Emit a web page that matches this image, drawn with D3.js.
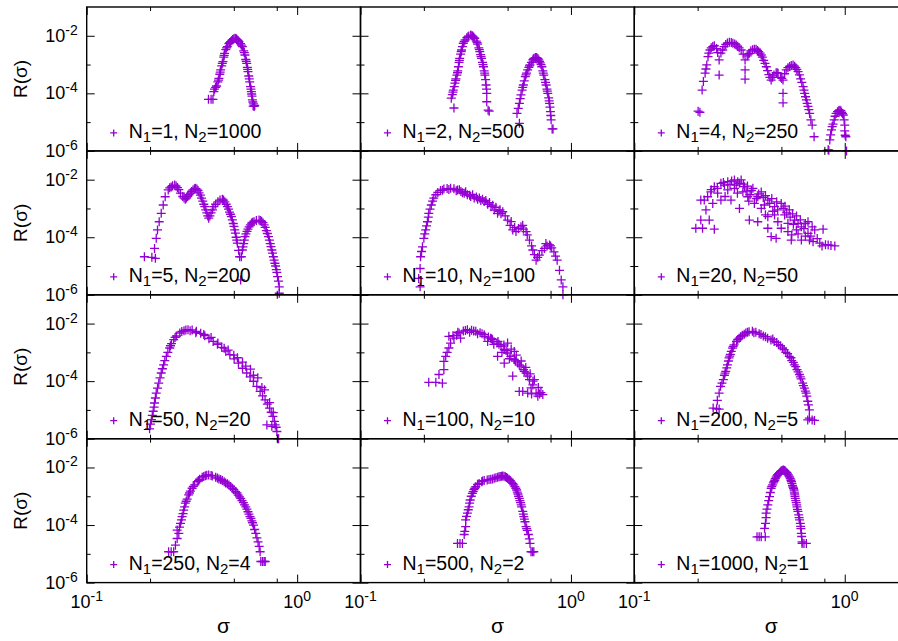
<!DOCTYPE html>
<html>
<head>
<meta charset="utf-8">
<script src="https://cdn.jsdelivr.net/npm/d3@7"></script>
<style>
body { margin: 0; background: #fff; }
text { font-family: "Liberation Sans", Arial, sans-serif; fill: #000; }
.frame { fill: none; stroke: #000; stroke-width: 1.4; }
.pt { fill: none; stroke: #9400d3; stroke-width: 1.3; }
</style>
</head>
<body>
<svg id="chart" width="898" height="641"></svg>
<script>
// N1 / N2 of each panel, in reading order
let n1_values = [1, 2, 4, 5, 10, 20, 50, 100, 200, 250, 500, 1000];
let n2_values = [1000, 500, 250, 200, 100, 50, 20, 10, 5, 4, 2, 1];

// tick values
let x_major = [0.1, 1];
let x_minor = [0.2, 0.5, 0.8];
let y_major = [1e-6, 1e-4, 1e-2];
let y_minor = [1e-5, 1e-3];

// [sigma, R(sigma)]
let pts_1_1000 = [[0.379,6.2e-5],[0.390,6.2e-5],[0.398,6.2e-5],[0.402,1.14e-4],[0.405,1.4e-4],[0.414,1.8e-4],[0.420,2.5e-4],[0.425,3.3e-4],[0.429,4.6e-4],[0.433,6.5e-4],[0.438,9e-4],[0.444,1.26e-3],[0.448,1.8e-3],[0.452,2.46e-3],[0.458,3.3e-3],[0.466,4.2e-3],[0.474,5.3e-3],[0.483,6.2e-3],[0.494,7.4e-3],[0.500,7.9e-3],[0.507,8.2e-3],[0.515,7.7e-3],[0.520,7.2e-3],[0.529,6.2e-3],[0.538,5.3e-3],[0.549,4.2e-3],[0.557,3.0e-3],[0.565,2.15e-3],[0.570,1.5e-3],[0.576,1.1e-3],[0.580,8e-4],[0.584,5.65e-4],[0.589,4e-4],[0.595,2.5e-4],[0.600,1.7e-4],[0.606,1.14e-4],[0.610,8e-5],[0.613,5.9e-5],[0.618,3.6e-5],[0.620,4.3e-5],[0.625,3.5e-5],[0.629,3.8e-5],
  [0.410,1.6e-4],[0.423,2.9e-4],[0.431,5.5e-4],[0.441,1.1e-3],[0.450,2.1e-3],[0.462,3.8e-3],[0.478,5.8e-3],[0.489,6.9e-3],[0.511,8.0e-3],[0.524,6.8e-3],[0.543,4.7e-3],[0.561,2.6e-3],[0.573,1.3e-3],[0.582,6.8e-4],[0.592,3.2e-4],[0.603,1.4e-4],[0.608,9.5e-5],[0.616,5e-5]];

let pts_2_500 = [[0.278,3.1e-5],[0.270,6.8e-5],[0.273,9e-5],[0.276,1.3e-4],[0.279,1.7e-4],[0.281,2.25e-4],[0.284,3.2e-4],[0.287,4.3e-4],[0.290,6e-4],[0.292,8.4e-4],[0.294,1.2e-3],[0.296,1.65e-3],[0.299,2.3e-3],[0.302,3.2e-3],[0.305,4.2e-3],[0.308,5.5e-3],[0.314,7.2e-3],[0.320,8.6e-3],[0.327,9.8e-3],[0.334,1.06e-2],[0.341,9.8e-3],[0.349,8.2e-3],[0.355,6.5e-3],[0.360,5.1e-3],[0.365,3.8e-3],[0.369,2.8e-3],[0.372,2.2e-3],[0.376,1.65e-3],[0.380,1.2e-3],[0.384,8.4e-4],[0.387,6e-4],[0.390,4.3e-4],[0.393,3e-4],[0.395,1.95e-4],[0.397,1.4e-4],[0.398,1.0e-4],[0.398,5.1e-5],[0.404,2.6e-5],[0.409,2.4e-5],
  [0.275,1.1e-4],[0.283,2.8e-4],[0.289,5.2e-4],[0.295,1.4e-3],[0.301,2.8e-3],[0.311,6.4e-3],[0.324,9.2e-3],[0.338,1.0e-2],[0.345,9e-3],[0.358,5.8e-3],[0.367,3.3e-3],[0.374,1.9e-3],[0.382,1.0e-3],[0.389,5e-4],
  [0.569,9.1e-6],[0.554,2.0e-5],[0.562,3e-5],[0.569,4.5e-5],[0.574,6.5e-5],[0.579,8.8e-5],[0.586,1.3e-4],[0.594,1.95e-4],[0.600,2.7e-4],[0.607,3.8e-4],[0.615,5e-4],[0.623,6.5e-4],[0.631,8e-4],[0.639,9.7e-4],[0.649,1.2e-3],[0.659,1.45e-3],[0.668,1.65e-3],[0.678,1.75e-3],[0.690,1.7e-3],[0.703,1.45e-3],[0.715,1.15e-3],[0.727,8.4e-4],[0.735,6e-4],[0.743,4.3e-4],[0.752,3e-4],[0.762,1.95e-4],[0.769,1.4e-4],[0.776,1.0e-4],[0.784,7e-5],[0.791,4.5e-5],[0.795,3.3e-5],[0.799,2.3e-5],[0.802,1.7e-5],[0.805,1.2e-5],[0.814,5.8e-6],[0.822,5.8e-6],
  [0.590,1.6e-4],[0.611,4.4e-4],[0.635,9e-4],[0.663,1.55e-3],[0.684,1.75e-3],[0.697,1.6e-3],[0.709,1.3e-3],[0.721,1.0e-3],[0.739,5e-4],[0.757,2.4e-4],[0.772,1.2e-4],[0.788,5.5e-5]];

let pts_4_250 = [[0.201,2.4e-5],[0.205,2.2e-5],[0.210,1.3e-4],[0.213,2.6e-4],[0.217,5.0e-4],[0.221,9.7e-4],[0.224,1.88e-3],[0.229,3.2e-3],[0.236,4.2e-3],[0.240,4.5e-3],[0.246,3.6e-3],[0.253,1.45e-3],[0.253,4.3e-4],[0.258,2.5e-3],[0.263,3.2e-3],[0.272,5.0e-3],[0.283,5.9e-3],[0.294,5.5e-3],[0.305,4.8e-3],[0.315,3.8e-3],[0.322,3.2e-3],[0.336,1.45e-3],[0.336,6.5e-4],[0.336,3.1e-4],[0.344,2.0e-3],[0.352,2.45e-3],[0.365,3.3e-3],[0.379,3.4e-3],[0.390,2.8e-3],[0.401,2.15e-3],[0.412,1.4e-3],[0.424,8.4e-4],[0.436,4.5e-4],[0.447,2.9e-4],[0.461,4.3e-4],[0.472,5.2e-4],[0.482,5.0e-4],[0.495,3.6e-4],[0.509,2.9e-4],[0.509,1.0e-4],[0.509,4.7e-5],[0.527,6.5e-4],[0.547,8.6e-4],[0.568,9.7e-4],[0.585,7.8e-4],[0.600,5.7e-4],[0.617,3.2e-4],[0.634,1.7e-4],[0.645,1.0e-4],[0.657,5.9e-5],[0.669,3.5e-5],[0.681,2.0e-5],[0.700,7.9e-6],[0.715,3.1e-6],
  [0.219,7e-4],[0.226,2.5e-3],[0.232,3.8e-3],[0.249,2.6e-3],[0.267,4.2e-3],[0.277,5.6e-3],[0.289,5.8e-3],[0.300,5.2e-3],[0.310,4.3e-3],[0.329,2.3e-3],[0.348,2.3e-3],[0.358,3.0e-3],[0.372,3.4e-3],[0.385,3.1e-3],[0.396,2.5e-3],[0.406,1.8e-3],[0.418,1.1e-3],[0.430,6.2e-4],[0.441,3.6e-4],[0.454,3.6e-4],[0.477,5.2e-4],[0.502,3.3e-4],[0.518,4.8e-4],[0.537,7.8e-4],[0.557,9.3e-4],[0.578,8.8e-4],[0.592,6.8e-4],[0.609,4.4e-4],[0.625,2.4e-4],[0.640,1.3e-4],[0.651,7.6e-5],[0.663,4.5e-5],[0.675,2.7e-5],[0.690,1.2e-5],
  [0.834,1.1e-6],[0.840,1.05e-6],[0.849,2.4e-6],[0.865,5.4e-6],[0.880,8.5e-6],[0.891,1.2e-5],[0.910,2.0e-5],[0.924,2.3e-5],[0.948,2.6e-5],[0.966,2.2e-5],[0.984,1.77e-5],[1.00,7.9e-6],[1.005,3.5e-6],[1.012,3.1e-6],[1.02,1.0e-6],
  [0.857,3.6e-6],[0.872,7e-6],[0.900,1.6e-5],[0.936,2.5e-5],[0.958,2.5e-5],[0.975,2.0e-5],[0.993,1.2e-5],[1.00,5e-6]];

let pts_5_200 = [[0.188,2.1e-5],[0.204,2.0e-5],[0.212,1.85e-5],[0.210,4.1e-5],[0.214,9.2e-5],[0.217,1.8e-4],[0.221,3.45e-4],[0.226,6.8e-4],[0.231,1.32e-3],[0.236,2.55e-3],[0.244,4.4e-3],[0.252,5.6e-3],[0.262,6.5e-3],[0.270,5.3e-3],[0.279,3.4e-3],[0.286,2.6e-3],[0.294,2.1e-3],[0.302,2.6e-3],[0.311,3.4e-3],[0.320,4.4e-3],[0.329,5.0e-3],[0.338,4.2e-3],[0.347,2.9e-3],[0.356,1.8e-3],[0.364,1.15e-3],[0.372,7e-4],[0.380,4.6e-4],[0.390,7e-4],[0.402,1.15e-3],[0.420,1.7e-3],[0.441,2.1e-3],[0.453,1.7e-3],[0.466,1.15e-3],[0.477,7.5e-4],[0.487,5.2e-4],[0.497,3e-4],[0.505,1.8e-4],[0.513,1.0e-4],[0.520,6.2e-5],[0.527,3.5e-5],[0.533,2.1e-5],[0.539,3.3e-6],[0.543,2.1e-5],[0.549,3.6e-5],[0.557,6e-5],[0.565,1.05e-4],[0.578,1.6e-4],[0.591,2.3e-4],[0.607,3.1e-4],[0.624,3.45e-4],[0.659,3.95e-4],[0.678,3.6e-4],[0.697,2.7e-4],[0.714,1.7e-4],[0.731,1.05e-4],[0.745,6e-5],[0.758,3.6e-5],[0.771,2.1e-5],[0.784,1.25e-5],[0.796,7.5e-6],[0.807,4.3e-6],[0.822,1.9e-6],[0.822,1.13e-6],
  [0.248,5.2e-3],[0.256,6.2e-3],[0.266,6.0e-3],[0.274,4.5e-3],[0.290,2.3e-3],[0.298,2.3e-3],[0.306,3.0e-3],[0.315,3.9e-3],[0.325,4.8e-3],[0.334,4.7e-3],[0.342,3.5e-3],[0.351,2.3e-3],[0.360,1.4e-3],[0.368,9e-4],[0.376,5.5e-4],[0.385,5.5e-4],[0.396,9e-4],[0.410,1.4e-3],[0.430,1.95e-3],[0.447,1.95e-3],[0.460,1.4e-3],[0.472,9.5e-4],[0.482,6.3e-4],[0.492,4e-4],[0.501,2.4e-4],[0.509,1.4e-4],[0.516,8e-5],[0.553,4.6e-5],[0.561,8e-5],[0.571,1.3e-4],[0.584,1.9e-4],[0.599,2.7e-4],[0.615,3.3e-4],[0.640,3.8e-4],[0.668,3.8e-4],[0.688,3.2e-4],[0.705,2.2e-4],[0.722,1.35e-4],[0.738,8e-5],[0.751,4.7e-5],[0.764,2.8e-5],[0.777,1.6e-5],[0.790,1.0e-5],[0.801,6e-6],[0.815,3e-6]];

let pts_10_100 = [[0.192,1.9e-6],[0.189,3.7e-6],[0.192,8.2e-6],[0.193,2.1e-5],[0.195,3.2e-5],[0.197,4.65e-5],[0.200,9.2e-5],[0.202,1.3e-4],[0.204,1.8e-4],[0.206,2.5e-4],[0.208,3.45e-4],[0.210,5e-4],[0.211,6.8e-4],[0.214,9.5e-4],[0.217,1.32e-3],[0.220,1.8e-3],[0.223,2.3e-3],[0.228,3.0e-3],[0.233,3.6e-3],[0.240,4.2e-3],[0.249,4.7e-3],[0.258,4.9e-3],[0.268,5.0e-3],[0.278,4.8e-3],[0.289,4.4e-3],[0.300,3.9e-3],[0.311,3.4e-3],[0.322,3.0e-3],[0.334,2.6e-3],[0.347,2.3e-3],[0.360,2.1e-3],[0.373,1.9e-3],[0.387,1.73e-3],[0.402,1.4e-3],[0.417,1.15e-3],[0.432,8.8e-4],[0.448,6.8e-4],[0.474,7.7e-4],[0.487,5.5e-4],[0.500,3.95e-4],[0.514,2.6e-4],[0.529,1.8e-4],[0.548,1.57e-4],[0.563,2.0e-4],[0.579,2.3e-4],[0.595,1.9e-4],[0.612,1.57e-4],[0.635,8.0e-5],[0.659,3.6e-5],[0.683,1.6e-5],[0.695,2.0e-5],[0.708,2.4e-5],[0.728,3.4e-5],[0.748,4.1e-5],[0.770,5.0e-5],[0.791,5.4e-5],[0.810,4.3e-5],[0.830,3.1e-5],[0.845,2.2e-5],[0.860,1.6e-5],[0.882,7.1e-6],[0.899,3.3e-6],[0.916,1.9e-6],[0.916,1e-6],
  [0.285,4.1e-3],[0.305,3.5e-3],[0.330,2.9e-3],[0.355,2.5e-3],[0.380,2.1e-3],[0.410,1.6e-3],[0.440,1.1e-3],[0.460,9e-4],[0.520,3.5e-4],[0.540,2.2e-4],[0.590,2.6e-4],[0.620,1.2e-4],[0.650,5e-5],[0.670,2.5e-5],[0.760,6e-5],[0.800,5e-5],[0.245,4.3e-3],[0.263,4.6e-3],[0.295,4.5e-3],[0.316,3.8e-3],[0.341,3.0e-3],[0.367,2.3e-3],[0.394,1.9e-3],[0.425,1.3e-3],[0.455,8e-4],[0.465,6.6e-4]];

let pts_20_50 = [[0.196,2.05e-4],[0.211,2.05e-4],[0.240,1.9e-4],[0.207,3.95e-4],[0.227,3.95e-4],[0.219,8.9e-4],[0.215,1.95e-3],[0.223,2.55e-3],[0.231,3.75e-3],[0.240,5.7e-3],[0.258,7.5e-3],[0.278,8.5e-3],[0.299,9.8e-3],[0.316,7.5e-3],[0.334,5.7e-3],[0.366,5.0e-3],[0.401,3.75e-3],[0.309,3.4e-3],[0.258,1.95e-3],[0.288,1.95e-3],[0.316,1.0e-3],[0.346,2.55e-3],[0.372,1.5e-3],[0.401,1.0e-3],[0.431,1.95e-3],[0.464,1.15e-3],[0.499,1.5e-3],[0.352,3.95e-4],[0.386,3.45e-4],[0.431,5.2e-4],[0.431,2.05e-4],[0.447,1.05e-4],[0.472,9.2e-5],[0.481,3.45e-4],[0.518,5.95e-4],[0.537,3.05e-4],[0.578,3.95e-4],[0.622,2.3e-4],[0.669,3.45e-4],[0.557,8.0e-5],[0.622,8.0e-5],[0.669,1.37e-4],[0.720,1.8e-4],[0.789,1.9e-4],[0.761,6.2e-5],[0.834,5.4e-5],[0.897,5.0e-5],[0.707,7.0e-5],[0.499,2.05e-4],[0.537,1.57e-4],[0.589,1.8e-4],[0.278,4.4e-3],[0.299,5.0e-3],[0.328,3.75e-3],[0.249,3.4e-3],[0.236,1.5e-3],[0.386,2.55e-3],[0.415,1.32e-3],[0.464,5.95e-4],[0.322,9.8e-3],[0.268,6.5e-3],[0.207,1.95e-3],
  [0.232,4.5e-3],[0.248,5.0e-3],[0.265,8.0e-3],[0.290,9.0e-3],[0.305,6.5e-3],[0.340,4.0e-3],[0.355,3.0e-3],[0.380,2.2e-3],[0.410,2.4e-3],[0.440,1.5e-3],[0.455,8e-4],[0.480,9e-4],[0.510,1.0e-3],[0.530,7e-4],[0.550,5e-4],[0.570,2.8e-4],[0.600,3e-4],[0.640,2.0e-4],[0.650,1.1e-4],[0.690,1.1e-4],[0.740,9e-5],[0.780,5e-5],[0.810,5.5e-5],[0.860,5.2e-5],[0.270,2.6e-3],[0.350,1.8e-3],[0.420,6e-4],[0.600,1.3e-4],
  [0.285,6.8e-3],[0.310,8.4e-3],[0.330,7.0e-3],[0.345,6.0e-3],[0.360,4.2e-3],[0.390,3.2e-3],[0.420,2.8e-3],[0.450,2.2e-3],[0.475,1.7e-3],[0.520,1.2e-3],[0.545,9e-4],[0.565,6.5e-4],[0.590,5.5e-4],[0.615,4e-4],[0.650,3e-4],[0.700,2.3e-4],[0.560,1.2e-4],[0.680,8e-5]];

let pts_50_20 = [[0.199,2.2e-6],[0.201,3.2e-6],[0.203,4.6e-6],[0.205,6.5e-6],[0.207,9.0e-6],[0.209,1.25e-5],[0.210,1.74e-5],[0.212,2.6e-5],[0.214,3.85e-5],[0.217,5.7e-5],[0.220,8.5e-5],[0.223,1.3e-4],[0.226,1.92e-4],[0.229,2.7e-4],[0.232,3.7e-4],[0.235,5.2e-4],[0.239,7.3e-4],[0.243,1.0e-3],[0.248,1.42e-3],[0.253,2.0e-3],[0.259,2.75e-3],[0.267,3.7e-3],[0.277,4.7e-3],[0.290,5.6e-3],[0.303,6.1e-3],[0.317,6.0e-3],[0.332,5.4e-3],[0.348,4.6e-3],[0.364,3.8e-3],[0.381,3.0e-3],[0.399,2.4e-3],[0.418,1.9e-3],[0.438,1.5e-3],[0.458,1.1e-3],[0.479,8.3e-4],[0.502,5.9e-4],[0.526,4.2e-4],[0.550,2.8e-4],[0.576,1.92e-4],[0.598,1.4e-4],[0.620,9.9e-5],[0.643,6.6e-5],[0.667,4.4e-5],[0.685,3.1e-5],[0.704,2.25e-5],[0.722,1.6e-5],[0.739,1.16e-5],[0.753,8.3e-6],[0.767,5.95e-6],[0.786,3.0e-6],[0.801,1.78e-6],[0.816,1.0e-6],[0.758,2.7e-6],[0.718,3.0e-6],[0.810,1.0e-6],
  [0.450,1.4e-3],[0.500,8e-4],[0.550,4.6e-4],[0.600,2.6e-4],[0.650,1.3e-4],[0.700,5e-5],
  [0.330,4.8e-3],[0.360,4.2e-3],[0.390,3.3e-3],[0.420,2.1e-3],[0.470,1.2e-3],[0.520,6.5e-4],[0.570,3.3e-4],[0.620,1.6e-4],[0.680,6e-5],[0.740,1.8e-5],[0.770,8e-6],[0.780,4e-6],[0.795,2.5e-6],[0.310,5.6e-3],[0.296,6.0e-3],[0.283,5.3e-3],[0.263,3.3e-3],[0.250,1.7e-3]];

let pts_100_10 = [[0.211,9.1e-5],[0.228,9.1e-5],[0.245,8.5e-5],[0.236,1.7e-4],[0.249,2.5e-4],[0.249,4.9e-4],[0.254,7.3e-4],[0.258,1.0e-3],[0.263,1.42e-3],[0.268,2.1e-3],[0.278,3.1e-3],[0.286,3.9e-3],[0.294,4.7e-3],[0.308,5.5e-3],[0.322,6.1e-3],[0.337,5.9e-3],[0.353,5.4e-3],[0.370,4.8e-3],[0.387,4.1e-3],[0.405,3.4e-3],[0.424,2.75e-3],[0.445,2.1e-3],[0.465,1.62e-3],[0.482,1.25e-3],[0.500,9.5e-4],[0.518,7.3e-4],[0.538,5.6e-4],[0.558,4.3e-4],[0.579,3.3e-4],[0.595,2.5e-4],[0.612,1.92e-4],[0.635,1.12e-4],[0.659,7.4e-5],[0.683,3.85e-5],[0.735,3.4e-5],[0.710,3.6e-5],[0.623,3.85e-5],[0.568,4.4e-5],[0.529,1.5e-4],[0.482,4.2e-4],[0.448,7.3e-4],[0.500,2.1e-3],[0.538,1.08e-3],[0.568,3.7e-4],[0.623,1.5e-4],[0.670,1.12e-4],[0.646,5.8e-5],[0.696,3.0e-5],[0.263,3.6e-3],[0.402,2.4e-3],[0.299,3.1e-3],[0.430,1.9e-3],[0.470,1.0e-3],[0.510,6e-4],[0.590,4.4e-5],[0.650,3.6e-5],
  [0.330,5.0e-3],[0.360,4.4e-3],[0.390,3.6e-3],[0.420,3.0e-3],[0.450,2.4e-3],[0.480,1.8e-3],[0.520,1.3e-3],[0.550,8e-4],[0.580,5e-4],[0.610,3e-4],[0.640,1.8e-4],[0.700,6e-5],[0.720,4e-5],[0.290,5.0e-3],[0.275,3.8e-3],[0.315,5.8e-3],[0.345,5.5e-3],[0.378,4.4e-3],[0.415,3.1e-3],[0.455,1.9e-3],[0.492,1.15e-3],[0.545,5e-4],[0.600,2.2e-4],[0.660,1.0e-4]];

let pts_200_5 = [[0.237,1.16e-5],[0.253,1.07e-5],[0.246,1.1e-5],[0.248,2.15e-5],[0.253,3.85e-5],[0.257,6.6e-5],[0.261,8.5e-5],[0.265,1.12e-4],[0.268,1.6e-4],[0.272,2.2e-4],[0.275,2.9e-4],[0.277,3.7e-4],[0.280,5e-4],[0.282,6.4e-4],[0.286,8.5e-4],[0.289,1.08e-3],[0.293,1.4e-3],[0.298,1.83e-3],[0.306,2.4e-3],[0.315,3.1e-3],[0.326,3.9e-3],[0.339,4.7e-3],[0.351,5.2e-3],[0.364,5.4e-3],[0.378,5.0e-3],[0.392,4.4e-3],[0.410,3.7e-3],[0.430,3.1e-3],[0.446,2.7e-3],[0.462,2.4e-3],[0.484,1.85e-3],[0.506,1.42e-3],[0.525,1.0e-3],[0.545,7.3e-4],[0.560,5.2e-4],[0.576,3.7e-4],[0.593,2.5e-4],[0.609,1.7e-4],[0.620,1.2e-4],[0.631,8.5e-5],[0.643,5.7e-5],[0.655,3.85e-5],[0.667,2.0e-5],[0.679,1.0e-5],[0.679,5.2e-6],[0.718,4.3e-6],[0.667,4.5e-6],[0.700,4.5e-6],
  [0.345,5.0e-3],[0.370,4.8e-3],[0.400,4.2e-3],[0.420,3.5e-3],[0.455,2.9e-3],[0.475,2.2e-3],[0.495,1.7e-3],[0.515,1.25e-3],[0.535,9e-4],[0.555,6.5e-4],[0.570,4.5e-4],[0.585,3.2e-4],[0.600,2.1e-4],[0.615,1.4e-4],[0.636,7e-5],[0.650,4.5e-5],[0.660,3e-5],[0.672,1.5e-5],[0.270,1.9e-4],[0.284,7.4e-4],[0.295,1.6e-3],[0.310,2.8e-3],[0.320,3.5e-3],[0.333,4.3e-3]];

let pts_250_4 = [[0.245,1.18e-5],[0.252,1.18e-5],[0.259,1.18e-5],[0.264,2.0e-5],[0.269,3.4e-5],[0.274,5.1e-5],[0.269,6.7e-5],[0.276,8.5e-5],[0.279,1.15e-4],[0.282,1.5e-4],[0.284,1.95e-4],[0.287,2.5e-4],[0.289,3.3e-4],[0.292,4.3e-4],[0.294,5.75e-4],[0.300,8e-4],[0.305,1.12e-3],[0.311,1.5e-3],[0.317,1.9e-3],[0.326,2.5e-3],[0.335,3.2e-3],[0.344,3.9e-3],[0.354,4.6e-3],[0.366,5.2e-3],[0.380,5.5e-3],[0.395,5.1e-3],[0.410,4.6e-3],[0.425,4.0e-3],[0.441,3.5e-3],[0.457,2.9e-3],[0.474,2.45e-3],[0.492,1.9e-3],[0.510,1.45e-3],[0.525,1.1e-3],[0.539,8.4e-4],[0.555,6e-4],[0.570,4.3e-4],[0.584,2.9e-4],[0.597,1.95e-4],[0.609,1.4e-4],[0.620,1.0e-4],[0.628,7e-5],[0.636,5.1e-5],[0.644,3.6e-5],[0.652,2.6e-5],[0.660,1.8e-5],[0.667,1.18e-5],[0.672,5.4e-6],[0.685,5.4e-6],[0.697,5.4e-6],[0.705,5.4e-6],
  [0.360,4.9e-3],[0.390,5.3e-3],[0.418,4.3e-3],[0.433,3.8e-3],[0.450,3.2e-3],[0.466,2.7e-3],[0.483,2.2e-3],[0.500,1.7e-3],[0.518,1.3e-3],[0.532,9.5e-4],[0.547,7e-4],[0.562,5e-4],[0.577,3.6e-4],[0.590,2.4e-4],[0.603,1.7e-4],[0.614,1.2e-4],[0.297,6.7e-4],[0.308,1.3e-3],[0.321,2.2e-3],[0.340,3.5e-3],[0.372,5.4e-3]];

let pts_500_2 = [[0.289,2.3e-5],[0.297,2.3e-5],[0.305,2.3e-5],[0.311,4.7e-5],[0.316,8.8e-5],[0.316,1.5e-4],[0.322,2.6e-4],[0.328,4.3e-4],[0.332,7.4e-4],[0.336,1.0e-3],[0.340,1.26e-3],[0.346,1.7e-3],[0.353,2.15e-3],[0.366,2.8e-3],[0.377,3.2e-3],[0.387,3.5e-3],[0.400,3.7e-3],[0.416,3.9e-3],[0.432,4.2e-3],[0.448,4.6e-3],[0.461,4.9e-3],[0.474,5.1e-3],[0.488,4.8e-3],[0.500,4.2e-3],[0.515,3.5e-3],[0.529,2.8e-3],[0.541,2.15e-3],[0.552,1.65e-3],[0.560,1.2e-3],[0.568,8.5e-4],[0.576,6e-4],[0.583,4.3e-4],[0.590,3e-4],[0.597,1.95e-4],[0.605,1.3e-4],[0.612,8.8e-5],[0.620,6.5e-5],[0.628,4.7e-5],[0.634,3.3e-5],[0.639,2.3e-5],[0.646,1.18e-5],[0.656,1.18e-5],[0.666,1.18e-5],
  [0.360,2.6e-3],[0.380,3.4e-3],[0.408,3.8e-3],[0.424,4.0e-3],[0.440,4.4e-3],[0.455,4.8e-3],[0.468,5.0e-3],[0.481,5.0e-3],[0.494,4.5e-3],[0.508,3.9e-3],[0.522,3.1e-3],[0.535,2.5e-3],[0.547,1.9e-3],[0.556,1.4e-3],[0.564,1.0e-3],[0.572,7e-4],[0.580,5e-4],[0.594,2.4e-4],[0.601,1.6e-4],[0.616,7.5e-5],[0.313,6e-5],[0.319,2e-4],[0.325,3.4e-4],[0.330,5.8e-4],[0.343,1.45e-3],[0.349,1.9e-3]];

let pts_1000_1 = [[0.383,3.9e-5],[0.392,3.9e-5],[0.401,3.9e-5],[0.419,3.9e-5],[0.416,7.7e-5],[0.420,1.15e-4],[0.423,1.8e-4],[0.423,2.6e-4],[0.427,3.6e-4],[0.431,5.0e-4],[0.435,7e-4],[0.439,9.7e-4],[0.443,1.35e-3],[0.447,1.9e-3],[0.454,2.5e-3],[0.461,3.2e-3],[0.468,4.1e-3],[0.476,5.1e-3],[0.485,6.1e-3],[0.495,7.1e-3],[0.503,7.8e-3],[0.512,8.2e-3],[0.521,7.5e-3],[0.531,6.6e-3],[0.539,5.5e-3],[0.547,4.6e-3],[0.555,3.6e-3],[0.561,2.8e-3],[0.567,2.1e-3],[0.574,1.65e-3],[0.578,1.2e-3],[0.582,8.5e-4],[0.588,6e-4],[0.593,4.3e-4],[0.599,3e-4],[0.604,2.25e-4],[0.610,1.5e-4],[0.615,1.15e-4],[0.619,7.5e-5],[0.622,5.1e-5],[0.627,2.6e-5],[0.627,2.3e-5],[0.640,2.3e-5],[0.657,2.3e-5],
  [0.450,2.2e-3],[0.458,2.9e-3],[0.465,3.6e-3],[0.472,4.6e-3],[0.480,5.6e-3],[0.490,6.6e-3],[0.499,7.5e-3],[0.508,8.0e-3],[0.517,7.9e-3],[0.526,7.0e-3],[0.535,6.0e-3],[0.543,5.0e-3],[0.551,4.1e-3],[0.558,3.2e-3],[0.564,2.4e-3],[0.571,1.9e-3],[0.576,1.4e-3],[0.580,1.0e-3],[0.585,7e-4],[0.591,5e-4],[0.596,3.5e-4],[0.607,1.8e-4],[0.617,9e-5],[0.624,4e-5]];

let panel_data = [pts_1_1000, pts_2_500, pts_4_250, pts_5_200, pts_10_100, pts_20_50,
	pts_50_20, pts_100_10, pts_200_5, pts_250_4, pts_500_2, pts_1000_1];

// layout of the 4 x 3 grid
let panel_w = 273.8;
let panel_h = 143.9;
let col_x = [86.7, 360.5, 634.3];
let row_y = [7, 150.9, 294.8, 438.7];

let svg = d3.select("#chart");

let x = d3.scaleLog().domain([0.1, 2]).range([0, panel_w]);
let y = d3.scaleLog().domain([1e-6, 1e-1]).range([panel_h, 0]);

let plus = "M-4.5,0H4.5M0,-4.5V4.5";

function drawTicks(g) {
	// major and minor ticks on all four sides, pointing inward
	let axes = [
		[d3.axisBottom(x), "translate(0," + panel_h + ")", x_major, x_minor],
		[d3.axisTop(x), "translate(0,0)", x_major, x_minor],
		[d3.axisLeft(y), "translate(0,0)", y_major, y_minor],
		[d3.axisRight(y), "translate(" + panel_w + ",0)", y_major, y_minor]
	];
	axes.forEach(function(a) {
		g.append("g").attr("transform", a[1])
			.call(a[0].tickValues(a[2]).tickSizeInner(-8).tickSizeOuter(0).tickFormat(""))
			.call(function(s) { s.select(".domain").remove(); });
		g.append("g").attr("transform", a[1])
			.call(a[0].tickValues(a[3]).tickSizeInner(-4).tickSizeOuter(0).tickFormat(""))
			.call(function(s) { s.select(".domain").remove(); });
	});
}

function powerLabel(sel, exp) {
	sel.append("tspan").text("10");
	sel.append("tspan").attr("dy", -7).attr("font-size", 14).text(exp);
}

panel_data.forEach(function(pts, i) {
	let row = Math.floor(i / 3);
	let col = i % 3;
	let g = svg.append("g")
		.attr("transform", "translate(" + col_x[col] + "," + row_y[row] + ")");

	// data points as "+" marks
	g.selectAll(".pt").data(pts).enter().append("path")
		.attr("class", "pt")
		.attr("transform", function(d) { return "translate(" + x(d[0]) + "," + y(d[1]) + ")"; })
		.attr("d", plus);

	drawTicks(g);

	g.append("rect")
		.attr("class", "frame")
		.attr("width", panel_w)
		.attr("height", panel_h);

	// legend
	g.append("path")
		.attr("class", "pt")
		.attr("transform", "translate(27," + (panel_h - 18) + ")")
		.attr("d", "M-3.5,0H3.5M0,-3.5V3.5");
	let key = g.append("text")
		.attr("x", 42)
		.attr("y", panel_h - 13)
		.attr("font-size", 19.5);
	key.append("tspan").text("N");
	key.append("tspan").attr("dy", 4).attr("font-size", 15).text("1");
	key.append("tspan").attr("dy", -4).text("=" + n1_values[i] + ", N");
	key.append("tspan").attr("dy", 4).attr("font-size", 15).text("2");
	key.append("tspan").attr("dy", -4).text("=" + n2_values[i]);

	// y tick labels on the left column only
	if (col == 0) {
		y_major.forEach(function(v) {
			let t = g.append("text")
				.attr("x", -9)
				.attr("y", y(v) + 6)
				.attr("text-anchor", "end")
				.attr("font-size", 18);
			powerLabel(t, String(Math.round(Math.log10(v))));
		});
		g.append("text")
			.attr("transform", "translate(-60," + (panel_h / 2) + ") rotate(-90)")
			.attr("text-anchor", "middle")
			.attr("font-size", 19)
			.text("R(σ)");
	}

	// x tick labels and title on the bottom row only
	if (row == 3) {
		x_major.forEach(function(v) {
			let t = g.append("text")
				.attr("x", x(v))
				.attr("y", panel_h + 25.5)
				.attr("text-anchor", "middle")
				.attr("font-size", 18);
			powerLabel(t, String(Math.round(Math.log10(v))));
		});
		g.append("text")
			.attr("x", panel_w / 2)
			.attr("y", panel_h + 50)
			.attr("text-anchor", "middle")
			.attr("font-size", 21)
			.text("σ");
	}
});
</script>
</body>
</html>
